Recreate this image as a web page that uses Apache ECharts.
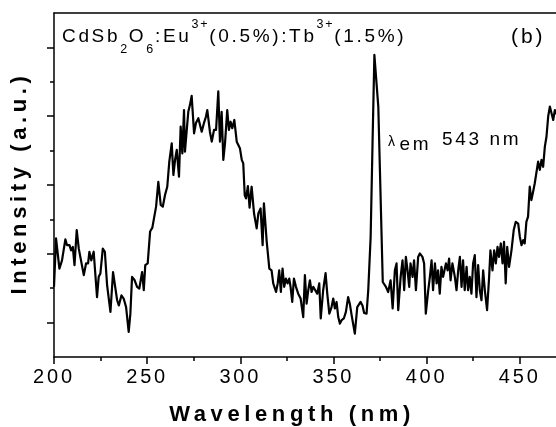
<!DOCTYPE html>
<html>
<head>
<meta charset="utf-8">
<script src="https://cdn.jsdelivr.net/npm/echarts@6/dist/echarts.min.js"></script>
<style>
  html, body { margin: 0; padding: 0; background: #fff; }
  #chart { width: 556px; height: 427px; }
</style>
</head>
<body>
<div id="chart"></div>
<script>
// Origin prints its text with wide letter spacing; give every canvas font a matching letterSpacing
(function () {
  var proto = CanvasRenderingContext2D.prototype
  var desc = Object.getOwnPropertyDescriptor(proto, 'font')
  if (!desc || !('letterSpacing' in proto)) return
  Object.defineProperty(proto, 'font', {
    configurable: true,
    get: function () { return desc.get.call(this) },
    set: function (v) {
      desc.set.call(this, v)
      var m = /([\d.]+)px/.exec(v)
      var k = /bold/.test(v) ? 0.21 : 0.14
      this.letterSpacing = m ? (parseFloat(m[1]) * k).toFixed(2) + 'px' : '0px'
    }
  })
})()

// excitation spectrum (nm, a.u.)
var wavelength = [
  200.0, 201.1, 202.9, 204.3, 205.2, 206.1, 207.0, 208.3, 209.2, 210.1, 211.0, 212.2, 213.3, 214.2, 216.0, 217.2,
  218.3, 219.0, 220.0, 221.3, 222.2, 223.1, 224.0, 224.9, 226.2, 227.3, 228.5, 229.4, 230.3, 231.7, 232.6, 233.9,
  234.8, 236.2, 237.4, 238.7, 240.1, 241.0, 241.9, 243.3, 244.6, 245.8, 247.3, 248.2, 249.0, 250.3, 251.6, 252.8,
  253.8, 254.8, 256.0, 257.3, 258.4, 259.6, 260.8, 261.9, 263.2, 264.1, 265.0, 265.9, 267.1, 268.0, 268.9, 269.8,
  270.3, 271.2, 272.1, 273.0, 273.9, 275.2, 276.2, 277.5, 278.4, 279.3, 280.5, 281.6, 282.3, 283.7, 284.7, 285.9,
  287.0, 288.2, 289.1, 290.0, 290.9, 291.8, 293.0, 293.9, 294.8, 295.7, 296.8, 298.1, 298.9, 299.8, 300.8, 301.6,
  302.4, 303.1, 304.1, 305.0, 306.1, 307.4, 308.8, 309.7, 310.9, 312.0, 312.7, 314.2, 315.6, 316.8, 317.7, 319.2,
  320.1, 320.9, 321.8, 322.7, 323.6, 324.5, 325.4, 326.3, 327.0, 327.9, 328.8, 329.9, 331.1, 332.4, 333.8, 334.7,
  335.6, 336.5, 337.4, 338.3, 339.2, 340.1, 341.3, 342.4, 343.2, 344.5, 345.8, 346.7, 347.8, 349.0, 349.9, 350.8,
  351.7, 352.6, 353.5, 354.4, 355.6, 356.7, 357.9, 358.8, 359.8, 360.6, 361.5, 362.8, 363.7, 364.6, 365.6, 366.5,
  367.8, 368.7, 370.0, 371.0, 372.0, 374.1, 376.5, 378.2, 379.4, 380.7, 381.8, 383.0, 383.9, 384.8, 386.1, 387.1,
  388.0, 388.9, 389.8, 390.7, 391.4, 392.5, 393.3, 394.3, 395.5, 396.4, 397.8, 398.7, 399.6, 400.9, 401.8, 402.7,
  403.5, 404.5, 405.4, 406.2, 407.1, 408.0, 408.9, 410.4, 411.3, 412.1, 412.9, 413.9, 415.2, 416.1, 417.0, 417.9,
  418.8, 419.6, 420.5, 421.5, 422.3, 423.2, 424.1, 425.0, 425.9, 426.8, 427.7, 428.6, 429.5, 430.4, 431.3, 432.5,
  433.6, 434.3, 435.4, 436.3, 437.2, 438.1, 438.9, 439.9, 440.8, 441.6, 442.5, 443.3, 444.3, 445.6, 446.8, 447.9,
  449.2, 450.1, 451.0, 451.9, 452.7, 453.6, 454.5, 455.4, 456.3, 457.2, 458.1, 459.0, 459.9, 460.8, 461.7, 462.6,
  463.5, 464.4, 465.3, 466.2, 467.1, 468.0, 468.9, 470.0
]
var intensity = [
  2.04, 3.45, 2.57, 2.81, 2.86, 3.42, 3.25, 3.25, 3.10, 3.20, 2.67, 3.69, 3.15, 3.10, 2.38, 2.72,
  2.72, 3.06, 2.81, 3.06, 3.01, 1.74, 2.33, 2.43, 3.15, 3.06, 2.09, 2.04, 1.31, 2.47, 2.13, 1.65,
  1.50, 1.79, 1.70, 1.45, 0.73, 1.26, 2.33, 2.23, 2.04, 1.99, 2.47, 1.94, 2.67, 2.72, 3.65, 3.76,
  3.80, 4.37, 5.09, 4.42, 4.37, 4.71, 4.95, 5.68, 6.21, 5.29, 5.73, 6.02, 5.24, 6.70, 5.92, 7.18,
  5.97, 6.02, 7.13, 7.33, 7.59, 6.50, 6.80, 6.94, 6.94, 6.55, 6.80, 6.99, 7.18, 6.55, 6.26, 6.60,
  6.60, 7.72, 6.26, 7.13, 5.73, 6.21, 7.18, 6.60, 6.84, 6.65, 6.89, 6.26, 6.31, 6.07, 5.73, 5.63,
  4.70, 4.61, 4.97, 4.34, 4.95, 4.17, 3.74, 4.17, 4.32, 3.25, 4.47, 3.35, 2.57, 2.52, 2.14, 1.89,
  2.14, 2.52, 1.89, 2.57, 2.04, 2.28, 2.14, 2.28, 2.04, 1.60, 2.28, 2.04, 1.84, 1.70, 1.16, 2.38,
  1.55, 1.94, 2.23, 1.89, 2.04, 2.04, 1.84, 2.14, 1.12, 1.94, 2.44, 1.84, 1.26, 1.45, 1.70, 1.41,
  1.60, 1.16, 0.97, 1.07, 1.12, 1.31, 1.74, 1.55, 1.21, 1.21, 0.68, 1.45, 1.50, 1.60, 1.50, 1.28,
  1.26, 1.94, 3.50, 6.20, 8.78, 7.28, 2.18, 2.04, 1.89, 2.23, 1.41, 2.52, 2.72, 1.36, 2.33, 2.81,
  1.94, 2.91, 2.52, 2.04, 2.72, 2.33, 2.81, 1.94, 2.91, 3.01, 2.91, 2.72, 1.26, 1.94, 2.33, 2.81,
  1.94, 2.72, 2.14, 2.52, 1.84, 2.62, 2.33, 2.72, 2.52, 2.86, 2.23, 2.72, 2.33, 1.94, 2.52, 2.91,
  2.04, 2.81, 1.94, 2.62, 1.94, 2.33, 1.84, 2.72, 2.96, 1.74, 2.67, 1.94, 1.65, 2.52, 1.94, 1.36,
  2.33, 3.10, 2.52, 3.10, 2.72, 3.20, 2.91, 3.30, 2.72, 3.35, 2.14, 3.20, 2.62, 3.10, 3.69, 3.93,
  3.88, 3.49, 3.25, 3.40, 3.30, 3.93, 4.08, 4.95, 4.56, 4.80, 5.05, 5.09, 5.68, 5.44, 5.73, 5.53,
  6.11, 6.41, 6.99, 7.28, 7.33, 6.89, 7.18, 7.05
]

var xMajorTicks = [200, 250, 300, 350, 400, 450]
var xMinorTicks = [225, 275, 325, 375, 425]
var yMajorTicks = [1, 3, 5, 7, 9]
var yMinorTicks = [2, 4, 6, 8]

var FONT = '"Liberation Sans", Arial, sans-serif'
var axisLine = { show: true, onZero: false, lineStyle: { color: '#000', width: 1.5 } }

var chart = echarts.init(document.getElementById('chart'), null, { renderer: 'canvas' })

chart.setOption({
  animation: false,
  backgroundColor: '#fff',
  grid: { left: 54, right: 0, top: 13, bottom: 70, containLabel: false },
  xAxis: [
    {
      type: 'value', min: 200, max: 469.5, position: 'bottom',
      axisLine: axisLine,
      axisTick: { show: true, inside: false, length: 7, customValues: xMajorTicks, lineStyle: { color: '#000', width: 1.5 } },
      axisLabel: { show: true, customValues: xMajorTicks, margin: 9, color: '#000', fontSize: 20, fontFamily: FONT },
      splitLine: { show: false }
    },
    {
      type: 'value', min: 200, max: 469.5, position: 'bottom',
      axisLine: { show: false },
      axisTick: { show: true, inside: false, length: 4, customValues: xMinorTicks, lineStyle: { color: '#000', width: 1.5 } },
      axisLabel: { show: false },
      splitLine: { show: false }
    },
    {
      type: 'value', min: 200, max: 469.5, position: 'top',
      axisLine: axisLine,
      axisTick: { show: false },
      axisLabel: { show: false },
      splitLine: { show: false }
    }
  ],
  yAxis: [
    {
      type: 'value', min: 0, max: 10, position: 'left',
      axisLine: axisLine,
      axisTick: { show: true, inside: false, length: 7, customValues: yMajorTicks, lineStyle: { color: '#000', width: 1.5 } },
      axisLabel: { show: false },
      splitLine: { show: false }
    },
    {
      type: 'value', min: 0, max: 10, position: 'left',
      axisLine: { show: false },
      axisTick: { show: true, inside: false, length: 4, customValues: yMinorTicks, lineStyle: { color: '#000', width: 1.5 } },
      axisLabel: { show: false },
      splitLine: { show: false }
    }
  ],
  series: [
    {
      type: 'line',
      xAxisIndex: 0,
      yAxisIndex: 0,
      data: wavelength.map(function (w, i) { return [w, intensity[i]] }),
      showSymbol: false,
      symbol: 'none',
      clip: true,
      lineStyle: { color: '#000', width: 2.2, join: 'round' }
    }
  ],
  graphic: [
    {
      type: 'text', x: 62, y: 36.8, silent: true,
      style: {
        text: '{m|CdSb}{s|2}{m|O}{s|6}{m|:Eu}{p|3+}{m|(0.5%):Tb}{p|3+}{m|(1.5%)}',
        align: 'left', verticalAlign: 'middle', fill: '#000',
        rich: {
          m: { fontSize: 19, fontFamily: FONT, lineHeight: 40, fill: '#000' },
          s: { fontSize: 12.5, fontFamily: FONT, lineHeight: 13, verticalAlign: 'bottom', fill: '#000' },
          p: { fontSize: 12.5, fontFamily: FONT, lineHeight: 21, verticalAlign: 'top', fill: '#000' }
        }
      }
    },
    {
      type: 'text', x: 511, y: 37.5, silent: true,
      style: { text: '(b)', font: '21px ' + FONT, fill: '#000', align: 'left', verticalAlign: 'middle' }
    },
    {
      type: 'text', x: 388, y: 142.5, silent: true,
      style: { text: 'λ', font: '14px ' + FONT, fill: '#000', align: 'left', verticalAlign: 'middle' }
    },
    {
      type: 'text', x: 399.5, y: 145, silent: true,
      style: { text: 'em', font: '19px ' + FONT, fill: '#000', align: 'left', verticalAlign: 'middle' }
    },
    {
      type: 'text', x: 442, y: 139.5, silent: true,
      style: { text: '543 nm', font: '19px ' + FONT, fill: '#000', align: 'left', verticalAlign: 'middle' }
    },
    {
      type: 'text', x: 292, y: 415, silent: true,
      style: { text: 'Wavelength (nm)', font: 'bold 22px ' + FONT, fill: '#000', align: 'center', verticalAlign: 'middle' }
    },
    {
      type: 'text', x: 20, y: 183, rotation: Math.PI / 2, silent: true,
      style: { text: 'Intensity (a.u.)', font: 'bold 22px ' + FONT, fill: '#000', align: 'center', verticalAlign: 'middle' }
    }
  ]
})
</script>
</body>
</html>
